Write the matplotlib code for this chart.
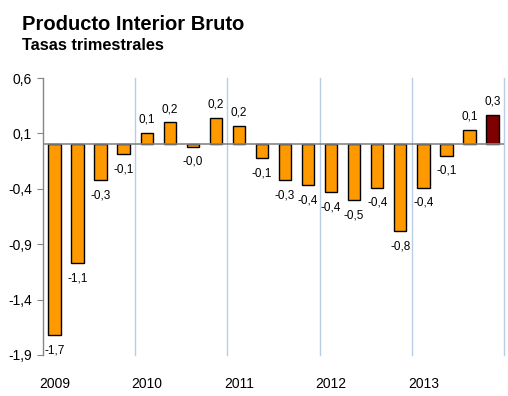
import matplotlib
matplotlib.use("Agg")
import matplotlib.pyplot as plt

# Data
years = ["2009", "2010", "2011", "2012", "2013"]
values = [-1.72, -1.07, -0.32, -0.09,
          0.105, 0.20, -0.02, 0.24,
          0.17, -0.125, -0.32, -0.37,
          -0.43, -0.50, -0.39, -0.78,
          -0.39, -0.10, 0.13, 0.27]
yticks = [0.6, 0.1, -0.4, -0.9, -1.4, -1.9]

orange = "#FF9900"
dark = "#7F0000"
gray = "#868686"
sep_color = "#B9CDE5"

plt.rcParams['font.family'] = ['Liberation Sans', 'DejaVu Sans']

fig = plt.figure(figsize=(5.08, 3.96), dpi=100)
ax = fig.add_axes([43/508, 1-355/396, (504-43)/508, (355-78)/396])

n = len(values)
xs = list(range(n))
colors = [orange]*(n-1) + [dark]
ax.bar(xs, values, width=0.54, color=colors, edgecolor="black", linewidth=1.0, zorder=3)

ax.set_xlim(-0.5, n-0.5)
ax.set_ylim(-1.9, 0.6)

# separators between years
for k in range(1, len(years)+1):
    ax.axvline(4*k-0.5, color=sep_color, linewidth=1.0, zorder=1, clip_on=False)

ax.axhline(0, color=gray, linewidth=1.2, zorder=4)

for x, v in zip(xs, values):
    s = f"{v:.1f}".replace('.', ',')
    if v >= 0:
        ax.annotate(s, (x, v), xytext=(0, 9.5), textcoords="offset points",
                    ha="center", va="center", fontsize=8.5, zorder=5)
    else:
        ax.annotate(s, (x, v), xytext=(0, -11), textcoords="offset points",
                    ha="center", va="center", fontsize=8.5, zorder=5)

ax.set_yticks(yticks)
ax.set_yticklabels([f"{t:.1f}".replace('.', ',') for t in yticks], fontsize=10)
ax.tick_params(axis="y", direction="out", length=4, color=gray, pad=4)

ax.set_xticks([4*i for i in range(len(years))])
ax.set_xticklabels(years, fontsize=10)
ax.tick_params(axis="x", length=0, pad=16)

for side in ["top", "right", "bottom"]:
    ax.spines[side].set_visible(False)
ax.spines["left"].set_color(gray)
ax.spines["left"].set_linewidth(1.0)

fig.text(22/508, 1-30/396, "Producto Interior Bruto", fontsize=14.5,
         fontweight="bold", ha="left", va="baseline")
fig.text(22/508, 1-50/396, "Tasas trimestrales", fontsize=11.8,
         fontweight="bold", ha="left", va="baseline")

fig.savefig("out.png", dpi=100)
